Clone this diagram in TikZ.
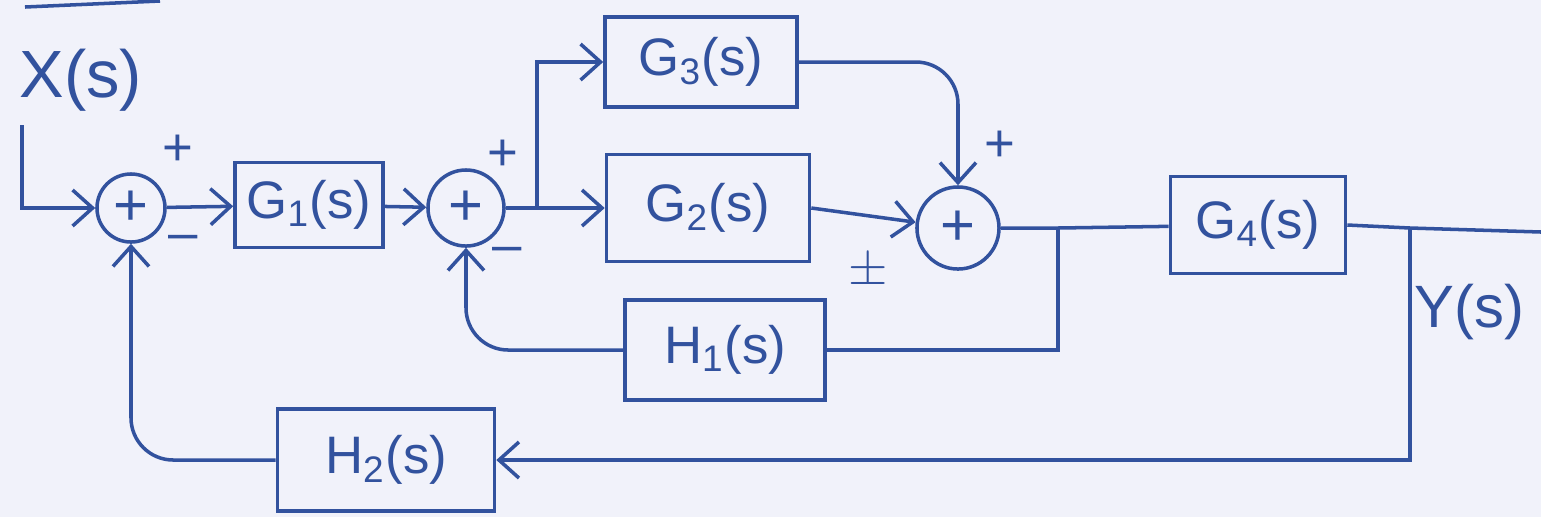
\documentclass[tikz,border=0pt]{standalone}
\usepackage{fontspec}
\setmainfont{Liberation Sans}
\usetikzlibrary{arrows.meta}

\definecolor{ink}{RGB}{50,82,158}
\definecolor{paper}{RGB}{241,242,250}

\begin{document}
\begin{tikzpicture}[x=0.01cm, y=-0.01cm, line width=1pt, color=ink,
    block/.style={draw, rectangle, inner sep=0pt, font=\fontsize{15}{18}\selectfont},
    sum/.style={draw, circle, inner sep=0pt, font=\fontsize{17}{20}\selectfont},
    sign/.style={font=\fontsize{15}{18}\selectfont},
    >={Straight Barb[length=2mm,width=3.6mm]}]
    \clip (0,0) rectangle (1541,517);
    \fill[paper] (0,0) rectangle (1541,517);
    \draw (25,7) -- (160,1);
    % input and output
    \node[font=\fontsize{19}{22}\selectfont, anchor=west] (xs) at (6,80) {X(s)};
    \node[font=\fontsize{17}{20}\selectfont, anchor=east] (ys) at (1538,312) {Y(s)};
    \coordinate (xin) at (22,125);
    \coordinate (yout) at (1541,232);
    % summing points
    \node[sum, minimum size=0.68cm] (s1) at (131,208) {+};
    \node[sum, minimum size=0.76cm] (s2) at (466,208) {+};
    \node[sum, minimum size=0.82cm] (s3) at (958,228) {+};
    % blocks
    \node[block, minimum width=1.48cm, minimum height=0.85cm] (g1) at (309,205) {G\textsubscript{1}(s)};
    \node[block, minimum width=1.92cm, minimum height=0.90cm] (g3) at (701,62) {G\textsubscript{3}(s)};
    \node[block, minimum width=2.03cm, minimum height=1.07cm] (g2) at (708,208) {G\textsubscript{2}(s)};
    \node[block, minimum width=2.00cm, minimum height=1.00cm] (h1) at (725,350) {H\textsubscript{1}(s)};
    \node[block, minimum width=1.75cm, minimum height=0.97cm] (g4) at (1258,225) {G\textsubscript{4}(s)};
    \node[block, minimum width=2.17cm, minimum height=1.02cm] (h2) at (386,460) {H\textsubscript{2}(s)};
    % branch points
    \coordinate (b1) at (537,208);
    \coordinate (b2) at (1058,228);
    \coordinate (b3) at (1410,228);
    % signs
    \node[sign] (p1) at (178,150) {+};
    \node[sign] (m1) at (183,243) {--};
    \node[sign] (p2) at (503,155) {+};
    \node[sign] (m2) at (507,255) {--};
    \node[sign] (p3) at (1000,146) {+};
    \node[sign] (pm3) at (868,272) {$\pm$};
    % forward path
    \draw[->] (xin) |- (s1);
    \draw[->] (s1) -- (g1);
    \draw[->] (g1) -- (s2);
    \draw (s2) -- (b1);
    \draw[->] (b1) -- (g2);
    \draw[->] (b1) |- (g3.west);
    \draw[->, rounded corners=12] (g3.east) -| (s3.north);
    \draw[->] (g2.east) -- (s3);
    \draw (s3) -- (b2) -- (g4);
    \draw (g4.east) -- (b3) -- (yout);
    % feedback loops
    \draw (b2) |- (h1.east);
    \draw[->, rounded corners=12] (h1.west) -| (s2.south);
    \draw[->] (b3) |- (h2.east);
    \draw[->, rounded corners=12] (h2.west) -| (s1.south);
\end{tikzpicture}
\end{document}
